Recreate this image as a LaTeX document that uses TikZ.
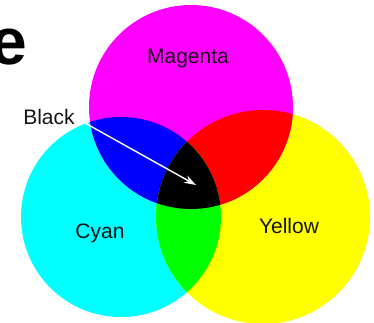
\documentclass[tikz,border=0pt]{standalone}
\usepackage{fontspec}
\setmainfont{Liberation Sans}
\usetikzlibrary{arrows.meta}
\definecolor{cmyM}{RGB}{255,0,255}
\definecolor{cmyC}{RGB}{0,255,255}
\definecolor{cmyY}{RGB}{255,255,0}
\definecolor{cmyR}{RGB}{255,0,0}
\definecolor{cmyG}{RGB}{0,255,0}
\definecolor{cmyB}{RGB}{0,0,255}
\definecolor{labeltext}{RGB}{20,20,20}
\begin{document}
\begin{tikzpicture}[x=1pt,y=-1pt,
  lbl/.style={anchor=base,inner sep=0pt,text=labeltext,font=\fontsize{21}{25}\selectfont},
  pointer/.style={draw=white,line width=1.4pt,-{Stealth[length=12pt,width=8pt]}}]
\useasboundingbox (0,0) rectangle (374,322);
\begin{scope}
\clip (0,0) rectangle (374,322);
\def\cyanpath{(121,217) circle[radius=100]}
\def\yellowpath{(263,217) circle[radius=107]}
\def\magentapath{(191,107) circle[radius=102]}
\fill[cmyC] \cyanpath;
\fill[cmyY] \yellowpath;
\fill[cmyM] \magentapath;
\begin{scope}\clip \magentapath; \fill[cmyB] \cyanpath; \end{scope}
\begin{scope}\clip \magentapath; \fill[cmyR] \yellowpath; \end{scope}
\begin{scope}\clip \cyanpath; \fill[cmyG] \yellowpath; \end{scope}
\begin{scope}\clip \cyanpath; \clip \yellowpath; \fill[black] \magentapath; \end{scope}
\node[anchor=base east,inner sep=0pt,font=\bfseries\fontsize{66}{70}\selectfont] (title) at (27,64) {e};
\end{scope}
\node[lbl] (magenta) at (188,63) {Magenta};
\node[lbl] (blacklbl) at (49,124) {Black};
\node[lbl] (cyan) at (100,238) {Cyan};
\node[lbl] (yellow) at (289,233) {Yellow};
\coordinate (pstart) at (85,123);
\coordinate (pend) at (196,185);
\draw[pointer] (pstart) -- (pend);
\end{tikzpicture}
\end{document}
